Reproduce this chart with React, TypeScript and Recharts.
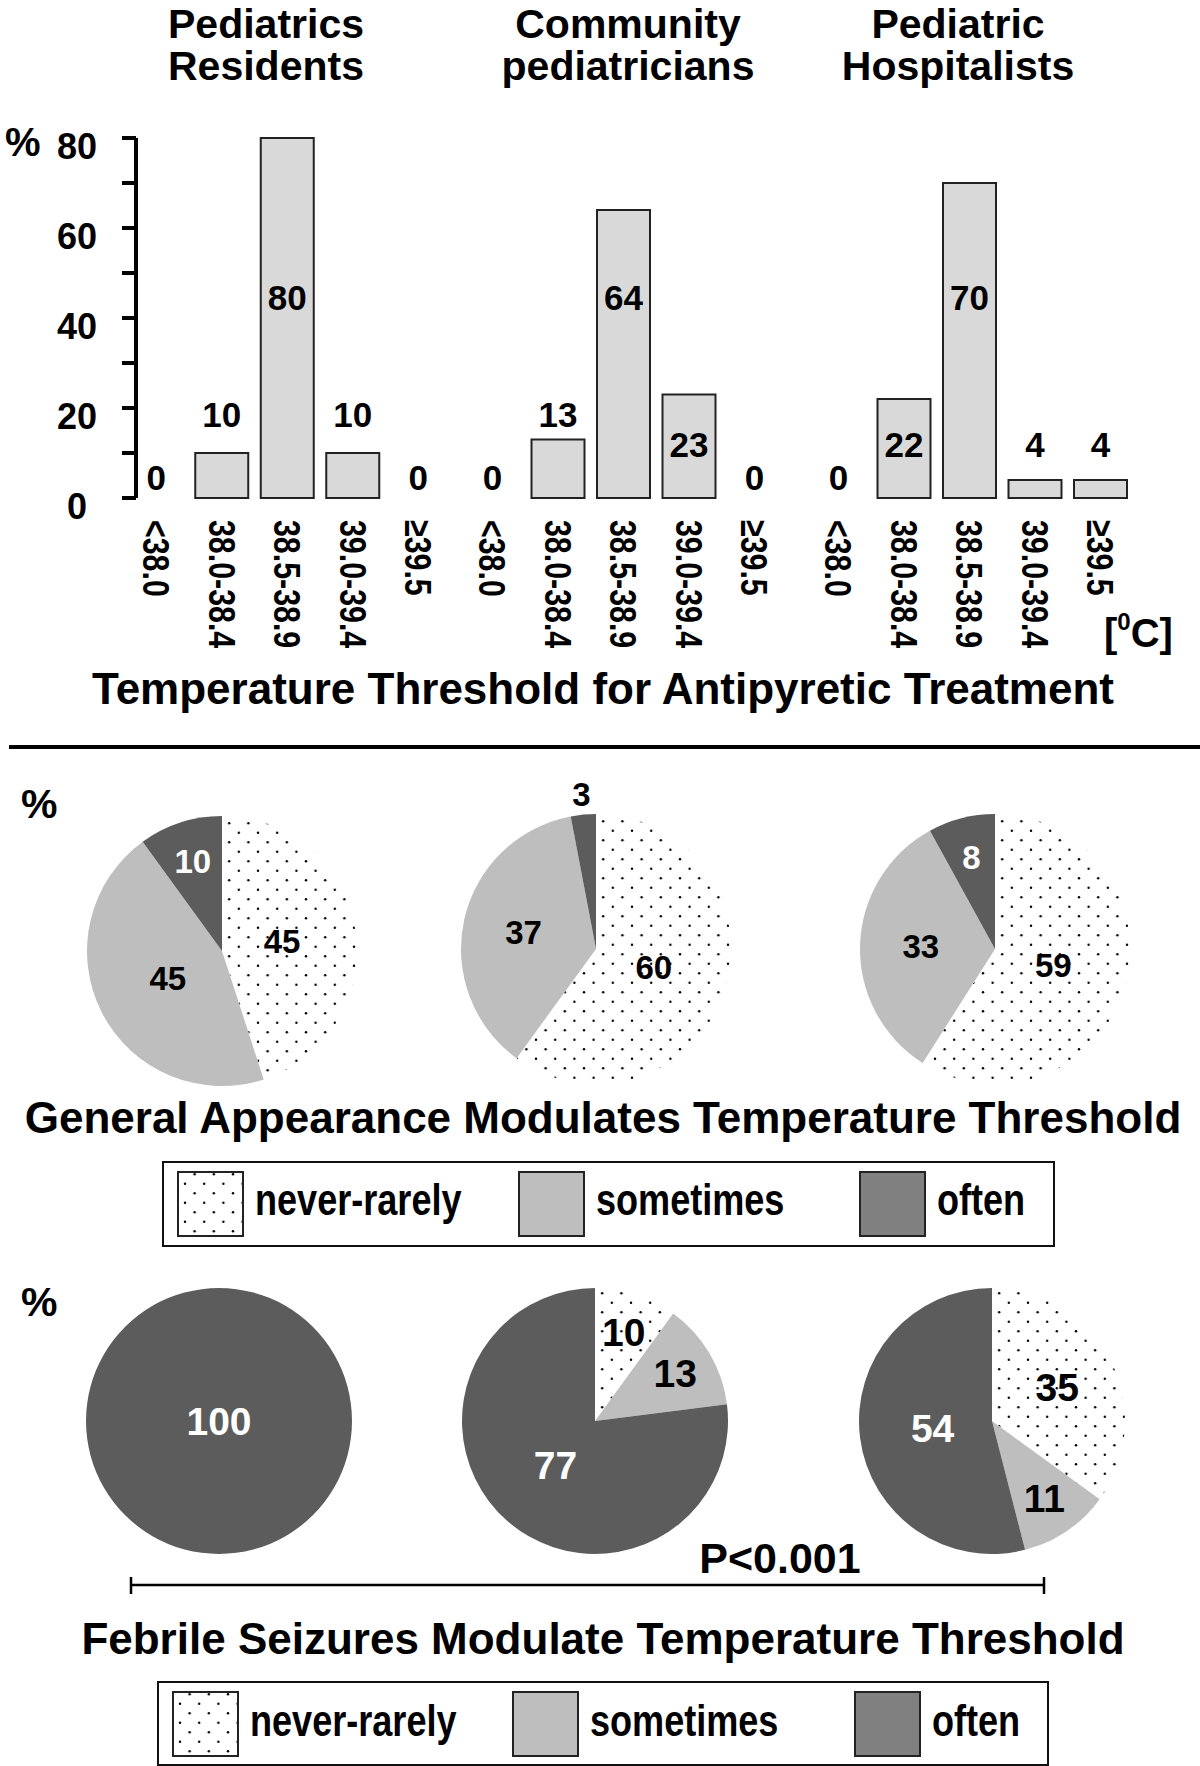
import React from 'react';
import { BarChart, Bar, XAxis, YAxis, LabelList, PieChart, Pie, Cell } from 'recharts';

// temperature bins and the three respondent groups
const tempBins = ['<38.0', '38.0-38.4', '38.5-38.9', '39.0-39.4', '≥39.5'];
const groupTitles = [
  ['Pediatrics', 'Residents'],
  ['Community', 'pediatricians'],
  ['Pediatric', 'Hospitalists'],
];
const residentsThreshold = [0, 10, 80, 10, 0];
const communityThreshold = [0, 13, 64, 23, 0];
const hospitalistsThreshold = [0, 22, 70, 4, 4];
const yTicks = [0, 10, 20, 30, 40, 50, 60, 70, 80];

// answers: never-rarely / sometimes / often
const frequencyLevels = ['never-rarely', 'sometimes', 'often'];
const appearanceResidents = [45, 45, 10];
const appearanceCommunity = [60, 37, 3];
const appearanceHospitalists = [59, 33, 8];
const seizuresResidents = [0, 0, 100];
const seizuresCommunity = [10, 13, 77];
const seizuresHospitalists = [35, 11, 54];

const FONT = '"Liberation Sans", Arial, Helvetica, sans-serif';
const NARROW = 0.82;
const DARK = '#5c5c5c';
const LIGHT = '#bebebe';
const BAR_FILL = '#d9d9d9';

const Y_MAX = 80;
const PLOT_TOP = 38;
const PLOT_H = 360;
const AXIS_BOTTOM = 160;
const CHART_H = PLOT_TOP + PLOT_H + AXIS_BOTTOM;
const CHART_TOP = 100;
const GROUP_W = 327.5;
const groupLeft = [123.75, 459.75, 806.25];
const AXIS_X = 136;

const barGroups = [residentsThreshold, communityThreshold, hospitalistsThreshold];

// where the value text sits (in axis units above the baseline)
function barLabelLevel(v: number) {
  if (v === 0) return 4.5;
  if (v < 10) return 12;
  if (v < 20) return 18.5;
  if (v < 30) return 12;
  return 44.5;
}

const BarValueLabel = (props: any) => {
  const vb = props.viewBox ?? props;
  const { x, y, width, height } = vb;
  const v = Number(props.value);
  const bottom = Math.max(y, y + height);
  const cy = bottom - barLabelLevel(v) * (PLOT_H / Y_MAX);
  return (
    <text
      x={x + width / 2}
      y={cy}
      textAnchor="middle"
      dominantBaseline="central"
      fontFamily={FONT}
      fontWeight="bold"
      fontSize={35}
      fill="#000"
    >
      {v}
    </text>
  );
};

// zero answers keep their slot (and label) but draw no box
const ThresholdBar = (props: any) => {
  const { x, y, width, height, payload } = props;
  if (!payload || payload.value === 0) return <g />;
  return (
    <rect x={x} y={y} width={width} height={height} fill={BAR_FILL} stroke="#222" strokeWidth={2} />
  );
};

const BinTick = (props: any) => {
  const { x, payload } = props;
  return (
    <text
      transform={`translate(${x},${PLOT_TOP + PLOT_H + 22}) rotate(90) scale(${NARROW},1)`}
      dy="0.36em"
      textAnchor="start"
      fontFamily={FONT}
      fontWeight="bold"
      fontSize={37}
      fill="#000"
    >
      {payload.value}
    </text>
  );
};

const PercentTick = (props: any) => {
  const { y, payload } = props;
  if (payload.value % 20 !== 0) return <g />;
  return (
    <text
      x={77}
      y={y + 8}
      textAnchor="middle"
      dominantBaseline="central"
      fontFamily={FONT}
      fontWeight="bold"
      fontSize={36}
      fill="#000"
    >
      {payload.value}
    </text>
  );
};

const RAD = Math.PI / 180;
function pieLabel(fontSize: number) {
  return (props: any) => {
    const { cx, cy, midAngle, outerRadius, percent, value, index } = props;
    if (!value) return null;
    let f = 0.45;
    if (percent >= 0.999) f = 0;
    else if (percent < 0.05) f = 1.15;
    else if (percent < 0.3) f = 0.7;
    else if (percent < 0.44) f = 0.55;
    const x = cx + outerRadius * f * Math.cos(-midAngle * RAD);
    const y = cy + outerRadius * f * Math.sin(-midAngle * RAD);
    const fill = index === 2 && f <= 1 ? '#fff' : '#000';
    return (
      <text
        x={x}
        y={y}
        textAnchor="middle"
        dominantBaseline="central"
        fontFamily={FONT}
        fontWeight="bold"
        fontSize={fontSize}
        fill={fill}
      >
        {value}
      </text>
    );
  };
}

const DotPattern = ({ id }: { id: string }) => (
  <pattern id={id} width={19.2} height={19} patternUnits="userSpaceOnUse">
    <circle cx={4.8} cy={4.75} r={1.2} fill="#000" />
    <circle cx={14.4} cy={14.25} r={1.2} fill="#000" />
  </pattern>
);

const PIE_BOX = 360;

function FrequencyPie({ id, values, cx, cy, r, fontSize }: any) {
  const data = frequencyLevels.map((name, i) => ({ name, value: values[i] }));
  const fills = [`url(#${id})`, LIGHT, DARK];
  return (
    <div style={{ position: 'absolute', left: cx - PIE_BOX / 2, top: cy - PIE_BOX / 2 }}>
      <PieChart width={PIE_BOX} height={PIE_BOX} margin={{ top: 0, right: 0, bottom: 0, left: 0 }}>
        <defs>
          <DotPattern id={id} />
        </defs>
        <Pie
          data={data}
          dataKey="value"
          cx="50%"
          cy="50%"
          outerRadius={r}
          startAngle={90}
          endAngle={-270}
          stroke="none"
          label={pieLabel(fontSize)}
          labelLine={false}
          isAnimationActive={false}
        >
          {data.map((d, i) => (
            <Cell key={d.name} fill={fills[i]} stroke="none" />
          ))}
        </Pie>
      </PieChart>
    </div>
  );
}

function FrequencyLegend({ id, left, top, width, height, swatchX, textBaseline }: any) {
  const fills = [`url(#${id})`, LIGHT, '#808080'];
  return (
    <svg
      width={width + 4}
      height={height + 4}
      style={{ position: 'absolute', left: left - 2, top: top - 2 }}
    >
      <defs>
        <DotPattern id={id} />
      </defs>
      <rect x={2} y={2} width={width} height={height} fill="#fff" stroke="#111" strokeWidth={2} />
      {frequencyLevels.map((name, i) => (
        <g key={name}>
          <rect x={2 + swatchX[i]} y={12} width={65} height={64} fill={fills[i]} stroke="#222" strokeWidth={2} />
          <text
            transform={`translate(${2 + swatchX[i] + 77},${2 + textBaseline}) scale(${NARROW},1)`}
            fontFamily={FONT}
            fontWeight="bold"
            fontSize={44}
            fill="#000"
          >
            {name}
          </text>
        </g>
      ))}
    </svg>
  );
}

const T = (p: any) => (
  <text fontFamily={FONT} fontWeight="bold" fill="#000" {...p} />
);

export default function App() {
  return (
    <div style={{ position: 'relative', width: 1200, height: 1766, background: '#fff', overflow: 'hidden' }}>
      <style>{'body{margin:0}'}</style>
      <svg width={1200} height={1766} style={{ position: 'absolute', left: 0, top: 0 }}>
        {groupTitles.map((lines, i) => {
          const cx = [266, 628, 958][i];
          return (
            <g key={i}>
              <T x={cx} y={38} fontSize={41} textAnchor="middle">{lines[0]}</T>
              <T x={cx} y={80} fontSize={41} textAnchor="middle">{lines[1]}</T>
            </g>
          );
        })}
        <T x={5} y={156} fontSize={40}>%</T>
        <T x={1104} y={647} fontSize={40}>
          [<tspan fontSize={24} dy={-17}>0</tspan>
          <tspan dy={17}>C]</tspan>
        </T>
        <T x={603} y={704} fontSize={44} textAnchor="middle">
          Temperature Threshold for Antipyretic Treatment
        </T>
        <line x1={9} y1={747} x2={1200} y2={747} stroke="#000" strokeWidth={4} />

        <T x={21} y={818} fontSize={41}>%</T>
        <T x={603} y={1133} fontSize={44} textAnchor="middle">
          General Appearance Modulates Temperature Threshold
        </T>

        <T x={21} y={1316} fontSize={41}>%</T>
        <T x={780} y={1573} fontSize={43} textAnchor="middle">P&lt;0.001</T>
        <line x1={131} y1={1585} x2={1044} y2={1585} stroke="#000" strokeWidth={2.5} />
        <line x1={131} y1={1577} x2={131} y2={1594} stroke="#000" strokeWidth={2.5} />
        <line x1={1044} y1={1577} x2={1044} y2={1594} stroke="#000" strokeWidth={2.5} />
        <T x={603} y={1654} fontSize={44} textAnchor="middle">
          Febrile Seizures Modulate Temperature Threshold
        </T>
      </svg>

      {barGroups.map((values, g) => {
        const withAxis = g === 0;
        const left = withAxis ? 0 : groupLeft[g];
        const width = withAxis ? AXIS_X + GROUP_W - (AXIS_X - groupLeft[0]) : GROUP_W;
        return (
          <div key={g} style={{ position: 'absolute', left, top: CHART_TOP }}>
            <BarChart
              width={width}
              height={CHART_H}
              data={tempBins.map((bin, i) => ({ bin, value: values[i] }))}
              margin={{ top: PLOT_TOP, right: 0, bottom: 0, left: 0 }}
              barCategoryGap={0}
            >
              <XAxis
                dataKey="bin"
                axisLine={false}
                tickLine={false}
                height={AXIS_BOTTOM}
                interval={0}
                padding={withAxis ? { left: groupLeft[0] - AXIS_X, right: 0 } : { left: 0, right: 0 }}
                tick={<BinTick />}
              />
              {withAxis ? (
                <YAxis
                  type="number"
                  domain={[0, Y_MAX]}
                  ticks={yTicks}
                  interval={0}
                  width={AXIS_X}
                  tickSize={14}
                  stroke="#000"
                  strokeWidth={4}
                  axisLine={{ stroke: '#000', strokeWidth: 4 }}
                  tickLine={{ stroke: '#000', strokeWidth: 4 }}
                  tick={<PercentTick />}
                />
              ) : (
                <YAxis hide type="number" domain={[0, Y_MAX]} />
              )}
              <Bar
                dataKey="value"
                barSize={53}
                minPointSize={1}
                fill={BAR_FILL}
                stroke="#222"
                strokeWidth={2}
                shape={<ThresholdBar />}
                isAnimationActive={false}
              >
                <LabelList dataKey="value" content={(p: any) => <BarValueLabel {...p} />} />
              </Bar>
            </BarChart>
          </div>
        );
      })}

      <FrequencyPie id="dots-a1" values={appearanceResidents} cx={222} cy={951} r={135} fontSize={33} />
      <FrequencyPie id="dots-a2" values={appearanceCommunity} cx={596} cy={949} r={135} fontSize={33} />
      <FrequencyPie id="dots-a3" values={appearanceHospitalists} cx={995} cy={949} r={135} fontSize={33} />

      <FrequencyLegend
        id="dots-l1"
        left={163}
        top={1162}
        width={891}
        height={84}
        swatchX={[15, 356, 697]}
        textBaseline={53}
      />

      <FrequencyPie id="dots-s1" values={seizuresResidents} cx={218.5} cy={1421} r={133} fontSize={39} />
      <FrequencyPie id="dots-s2" values={seizuresCommunity} cx={594.5} cy={1421} r={133} fontSize={39} />
      <FrequencyPie id="dots-s3" values={seizuresHospitalists} cx={992} cy={1421} r={133} fontSize={39} />

      <FrequencyLegend
        id="dots-l2"
        left={158}
        top={1682}
        width={890}
        height={83}
        swatchX={[15, 355, 697]}
        textBaseline={54}
      />
    </div>
  );
}
